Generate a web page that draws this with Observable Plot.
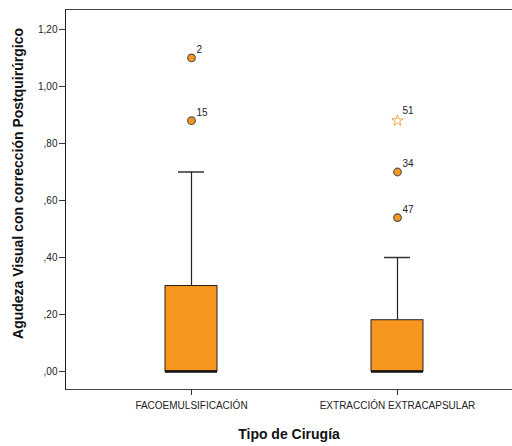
<!DOCTYPE html>
<html>
<head>
<meta charset="utf-8">
<script src="https://cdn.jsdelivr.net/npm/d3@7"></script>
<script src="https://cdn.jsdelivr.net/npm/@observablehq/plot@0.6"></script>
<style>
  html, body { margin: 0; padding: 0; background: #fff; }
  svg { display: block; }
</style>
</head>
<body>
<div id="chart"></div>
<script>
const categories = ["FACOEMULSIFICACIÓN", "EXTRACCIÓN EXTRACAPSULAR"];
const whiskerLow = [0, 0];
const q1 = [0, 0];
const median = [0, 0];
const q3 = [0.30, 0.18];
const whiskerHigh = [0.70, 0.40];

const outlierCats = ["FACOEMULSIFICACIÓN", "FACOEMULSIFICACIÓN", "EXTRACCIÓN EXTRACAPSULAR", "EXTRACCIÓN EXTRACAPSULAR"];
const outlierValues = [1.10, 0.88, 0.70, 0.54];
const outlierLabels = ["2", "15", "34", "47"];

const extremeCats = ["EXTRACCIÓN EXTRACAPSULAR"];
const extremeValues = [0.88];
const extremeLabels = ["51"];

const yTicks = [0, 0.2, 0.4, 0.6, 0.8, 1.0, 1.2];

const boxes = categories.map((c, i) => ({
  cat: c, low: whiskerLow[i], q1: q1[i], med: median[i], q3: q3[i], high: whiskerHigh[i]
}));
const outliers = outlierCats.map((c, i) => ({cat: c, v: outlierValues[i], label: outlierLabels[i]}));
const extremes = extremeCats.map((c, i) => ({cat: c, v: extremeValues[i], label: extremeLabels[i]}));

const fmt = v => {
  const s = v.toFixed(2).replace(".", ",");
  return s.startsWith("0,") ? s.slice(1) : s;
};

const orange = "#F7961E";
const font = "Liberation Sans, Arial, sans-serif";

const chart = Plot.plot({
  width: 512,
  height: 446,
  marginTop: 9,
  marginBottom: 57,
  marginLeft: 65,
  marginRight: 0,
  style: {fontFamily: font, fontSize: "10px", color: "#222", background: "#fff"},
  x: {type: "band", domain: categories, range: [65, 522], paddingInner: 0.75, paddingOuter: 0.484, label: null},
  y: {domain: [-0.063, 1.27], label: null},
  marks: [
    // frame lines
    Plot.ruleY([-0.063], {stroke: "#444", strokeWidth: 1.2}),
    Plot.ruleY([1.27], {stroke: "#444", strokeWidth: 1.2}),
    Plot.axisY({ticks: yTicks, tickFormat: fmt, tickSize: 6, tickPadding: 2, fontSize: 10, label: null, stroke: "#333"}),
    Plot.axisX({tickSize: 6, tickPadding: 6, fontSize: 10, label: null, stroke: "#333"}),
    Plot.frame({anchor: "left", stroke: "#222"}),
    // whiskers
    Plot.ruleX(boxes, {x: "cat", y1: "q3", y2: "high", stroke: "#222", strokeWidth: 1.2}),
    Plot.ruleX(boxes, {x: "cat", y1: "low", y2: "q1", stroke: "#222", strokeWidth: 1.2}),
    Plot.tickY(boxes, {x: "cat", y: "high", stroke: "#333", strokeWidth: 1.5, insetLeft: 13, insetRight: 13}),
    // boxes
    Plot.barY(boxes, {x: "cat", y1: "q1", y2: "q3", fill: orange, stroke: "#222", strokeWidth: 1}),
    Plot.tickY(boxes, {x: "cat", y: "med", stroke: "#111", strokeWidth: 2.5}),
    // outliers
    Plot.dot(outliers, {x: "cat", y: "v", r: 3.8, fill: orange, stroke: "#555", strokeWidth: 1.2}),
    Plot.text(outliers, {x: "cat", y: "v", text: "label", dx: 5, dy: -8, textAnchor: "start", fontSize: 10, fill: "#222"}),
    Plot.dot(extremes, {x: "cat", y: "v", r: 3.5, symbol: "star", fill: "none", stroke: "#F5A540", strokeWidth: 1}),
    Plot.text(extremes, {x: "cat", y: "v", text: "label", dx: 5, dy: -10, textAnchor: "start", fontSize: 10, fill: "#222"}),
    // axis titles
    Plot.text(["Tipo de Cirugía"], {frameAnchor: "bottom", dy: 49, textAnchor: "middle", fontSize: 14, fontWeight: "bold", fill: "#111"}),
    Plot.text(["Agudeza Visual con corrección Postquirúrgico"], {frameAnchor: "left", textAnchor: "middle", dx: -47, dy: -16, rotate: -90, fontSize: 14, fontWeight: "bold", fill: "#111"})
  ]
});
document.getElementById("chart").appendChild(chart);
</script>
</body>
</html>
